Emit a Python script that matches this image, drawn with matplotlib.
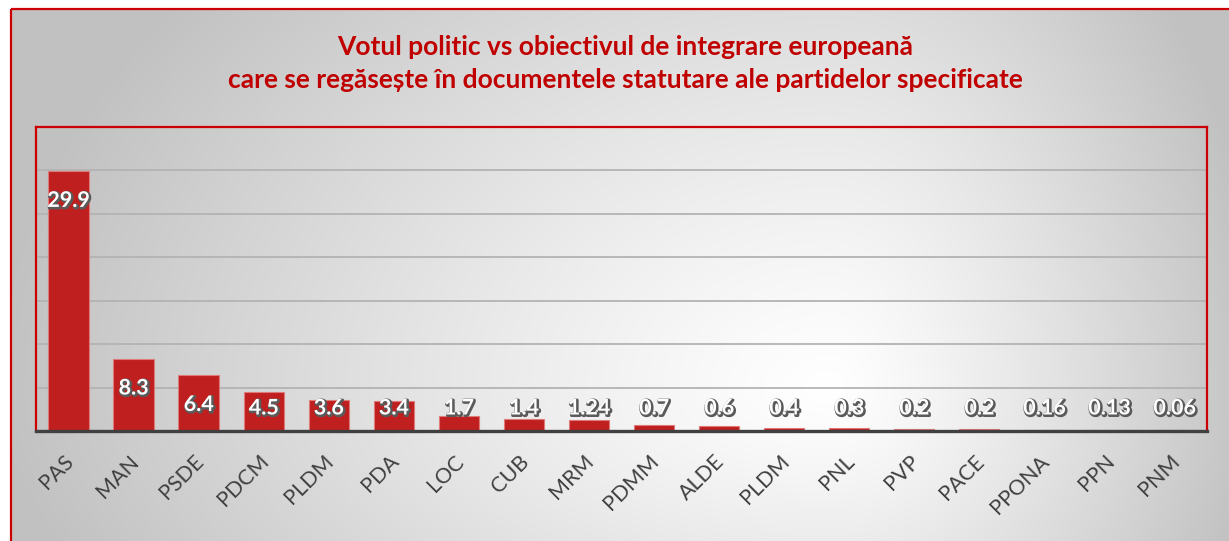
import numpy as np
import matplotlib
matplotlib.use("Agg")
import matplotlib.pyplot as plt
import matplotlib.patheffects as pe
import matplotlib.transforms as mtransforms
from matplotlib.patches import Rectangle

plt.rcParams['font.family'] = ['Lato', 'DejaVu Sans']

categories = ["PAS", "MAN", "PSDE", "PDCM", "PLDM", "PDA", "LOC", "CUB", "MRM",
              "PDMM", "ALDE", "PLDM", "PNL", "PVP", "PACE", "PPONA", "PPN", "PNM"]
values = [29.9, 8.3, 6.4, 4.5, 3.6, 3.4, 1.7, 1.4, 1.24,
          0.7, 0.6, 0.4, 0.3, 0.2, 0.2, 0.16, 0.13, 0.06]
labels = ["29.9", "8.3", "6.4", "4.5", "3.6", "3.4", "1.7", "1.4", "1.24",
          "0.7", "0.6", "0.4", "0.3", "0.2", "0.2", "0.16", "0.13", "0.06"]
title1 = "Votul politic vs obiectivul de integrare europeană"
title2 = "care se regăsește în documentele statutare ale partidelor specificate"

W, H = 1229, 541
fig = plt.figure(figsize=(W / 100, H / 100), dpi=100)
fig.patch.set_facecolor("white")

# background gradient
bg = fig.add_axes([0, 0, 1, 1], zorder=-10)
yy, xx = np.mgrid[0:H, 0:W].astype(float)
cx, cy = 830.0, 390.0
rx = np.where(xx < cx, 830.0, 430.0)
ry = np.where(yy < cy, 620.0, 400.0)
r = np.sqrt(((xx - cx) / rx) ** 2 + ((yy - cy) / ry) ** 2)
r = np.clip(r, 0, 1)
g = 1.0 - 0.24 * r ** 1.2
img = np.dstack([g, g, g])
img[:9, :, :] = 1.0
img[:, :10, :] = 1.0
bg.imshow(img, extent=[0, W, H, 0], aspect="auto", interpolation="bilinear")
bg.set_xlim(0, W)
bg.set_ylim(H, 0)
bg.axis("off")
bg.add_patch(Rectangle((10.5, 8.5), W + 20, H + 20, fill=False,
                       edgecolor="#CC0000", linewidth=1.6))

# plot axes
left, right, top, bottom = 36, 1207, 127, 431
ax = fig.add_axes([left / W, 1 - bottom / H, (right - left) / W, (bottom - top) / H])
ax.patch.set_alpha(0)
x = np.arange(len(categories))
ax.bar(x, values, width=0.62, color="#C01F1F", edgecolor="#DE7A7A",
       linewidth=0.8, zorder=3)
ax.set_xlim(-0.5, len(categories) - 0.5)
ax.set_ylim(0, 35)
ax.set_yticks(np.arange(0, 36, 5))
ax.yaxis.grid(True, color="#b3b3b3", linewidth=1.3, zorder=0)
ax.set_axisbelow(True)
ax.tick_params(axis="y", left=False, labelleft=False)
ax.tick_params(axis="x", bottom=False, pad=11)
ax.set_xticks(x)
ax.set_xticklabels(categories, rotation=45, ha="right", va="top",
                   rotation_mode="anchor", fontsize=15.5, color="#404040")
shift = mtransforms.ScaledTranslation(-5 / 100, 0, fig.dpi_scale_trans)
for tl in ax.get_xticklabels():
    tl.set_transform(tl.get_transform() + shift)
for s in ["top", "left", "right"]:
    ax.spines[s].set_color("#CC0000")
    ax.spines[s].set_linewidth(1.6)
ax.spines["bottom"].set_color("#404040")
ax.spines["bottom"].set_linewidth(2.4)
ax.spines["bottom"].set_zorder(5)

effects = [pe.Stroke(linewidth=2.0, foreground="#5a5a5a", offset=(0.8, -0.8)),
           pe.Normal()]
for xi, v, lab in zip(x, values, labels):
    yl = max(v - 3.35, 2.65)
    t = ax.text(xi, yl, lab, ha="center", va="center", fontsize=15.5,
                fontweight="bold", color="white", zorder=6)
    t.set_path_effects(effects)

fig.text(625 / W, 1 - 47 / H, title1, ha="center", va="center",
         fontsize=19, fontweight="bold", color="#C00000")
fig.text(625 / W, 1 - 80 / H, title2, ha="center", va="center",
         fontsize=19, fontweight="bold", color="#C00000")

fig.savefig("out.png", dpi=100)
